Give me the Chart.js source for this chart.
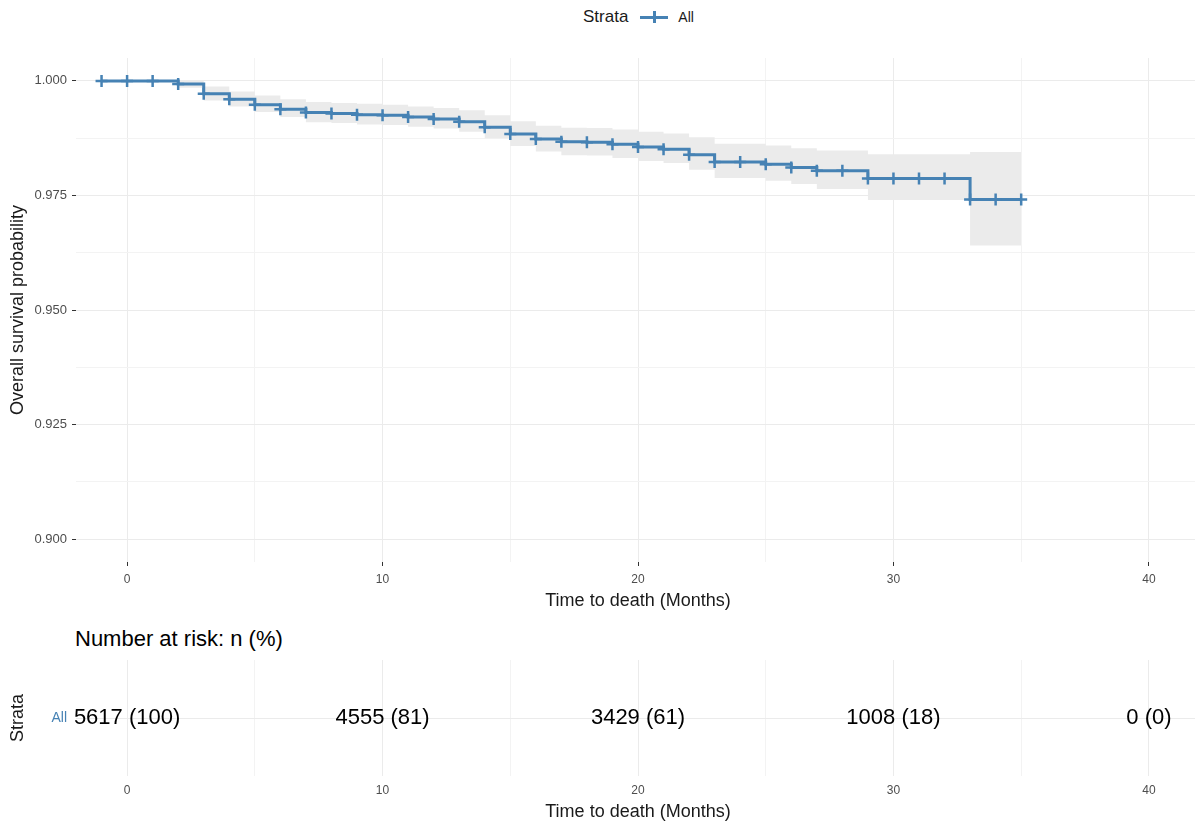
<!DOCTYPE html>
<html>
<head>
<meta charset="utf-8">
<script src="https://cdn.jsdelivr.net/npm/chart.js@4.4.0/dist/chart.umd.min.js"></script>
<style>
  html, body { margin: 0; padding: 0; background: #fff; }
  body { width: 1195px; height: 827px; position: relative; overflow: hidden;
         font-family: "Liberation Sans", Arial, sans-serif; }
  #km { position: absolute; left: 0; top: 0; }
  #risk { position: absolute; left: 0; top: 615px; }
  #legend { position: absolute; left: 583px; top: 6px; height: 22px; display: flex; align-items: center; color: #1a1a1a; }
  #legend .lt { font-size: 17px; }
  #legend .key { position: relative; width: 28px; height: 14px; margin-left: 12px; }
  #legend .key .h { position: absolute; left: 0; right: 0; top: 5.5px; height: 3px; background: #4682b4; }
  #legend .key .v { position: absolute; left: 13px; width: 2.5px; top: 1px; bottom: 1px; background: #4682b4; }
  #legend .li { font-size: 14px; margin-left: 10px; }
  #riskTitle { position: absolute; left: 75px; top: 626px; font-size: 22px; color: #000; line-height: 26px; }
</style>
</head>
<body>
<div id="legend"><span class="lt">Strata</span><span class="key"><i class="h"></i><i class="v"></i></span><span class="li">All</span></div>
<canvas id="km" width="1200" height="614"></canvas>
<div id="riskTitle">Number at risk: n (%)</div>
<canvas id="risk" width="1200" height="212"></canvas>
<script>
// ---- data ---------------------------------------------------------------
const months = [-1, 0, 1, 2, 3, 4, 5, 6, 7, 8, 9, 10, 11, 12, 13, 14, 15, 16, 17,
  18, 19, 20, 21, 22, 23, 24, 25, 26, 27, 28, 29, 30, 31, 32, 33, 34, 35];
const survival = [1.0000, 1.0000, 1.0000, 0.9993, 0.9972, 0.9960, 0.9948, 0.9938, 0.9931,
  0.9929, 0.9926, 0.9925, 0.9921, 0.9917, 0.9911, 0.9899, 0.9884, 0.9873, 0.9867,
  0.9866, 0.9862, 0.9856, 0.9851, 0.9839, 0.9823, 0.9823, 0.9818, 0.9811, 0.9804,
  0.9804, 0.9787, 0.9787, 0.9787, 0.9787, 0.9741, 0.9741, 0.9741];
const upperCI = [1.0000, 1.0000, 1.0000, 1.0000, 0.9988, 0.9977, 0.9968, 0.9960, 0.9954,
  0.9952, 0.9950, 0.9948, 0.9944, 0.9941, 0.9936, 0.9925, 0.9912, 0.9902, 0.9898,
  0.9897, 0.9894, 0.9889, 0.9885, 0.9877, 0.9863, 0.9863, 0.9859, 0.9853, 0.9848,
  0.9848, 0.9840, 0.9840, 0.9840, 0.9840, 0.9845, 0.9845, 0.9845];
const lowerCI = [1.0000, 1.0000, 1.0000, 0.9985, 0.9957, 0.9944, 0.9932, 0.9921, 0.9910,
  0.9908, 0.9905, 0.9904, 0.9900, 0.9896, 0.9889, 0.9875, 0.9858, 0.9846, 0.9838,
  0.9837, 0.9832, 0.9825, 0.9821, 0.9806, 0.9788, 0.9788, 0.9782, 0.9775, 0.9764,
  0.9764, 0.9740, 0.9740, 0.9740, 0.9740, 0.9641, 0.9641, 0.9641];

const xMajorTicks = [0, 10, 20, 30, 40];
const xMinorTicks = [5, 15, 25, 35];
const yMajorTicks = [0.900, 0.925, 0.950, 0.975, 1.000];
const yMinorTicks = [0.9125, 0.9375, 0.9625, 0.9875];

const strata = ["All"];
const riskMonths = [0, 10, 20, 30, 40];
const riskCounts = [5617, 4555, 3429, 1008, 0];
const riskPercent = [100, 81, 61, 18, 0];

// ---- styling ------------------------------------------------------------
const LINE = "#4682b4";
const FONT = "'Liberation Sans', Arial, sans-serif";
const GRID_MAJOR = "#ebebeb";
const GRID_MINOR = "#f3f3f3";
const TICK_TXT = "#4d4d4d";

const isMajorX = v => xMajorTicks.includes(v);
const isMajorY = v => yMajorTicks.some(t => Math.abs(t - v) < 1e-6);

function xScale(opts) {
  return Object.assign({
    type: "linear", min: -2, max: 42,
    afterBuildTicks: s => { s.ticks = [...xMajorTicks, ...xMinorTicks].sort((a, b) => a - b).map(v => ({ value: v })); },
    ticks: { font: { family: FONT, size: 12 }, color: TICK_TXT, maxRotation: 0, autoSkip: false, padding: 6,
             callback: v => isMajorX(v) ? String(v) : "" },
    grid: { color: c => isMajorX(c.tick.value) ? GRID_MAJOR : GRID_MINOR, lineWidth: 1,
            tickColor: c => isMajorX(c.tick.value) ? "#333" : "rgba(0,0,0,0)", tickLength: 4 },
    border: { display: false },
    title: { display: true, text: "Time to death (Months)", font: { family: FONT, size: 18 }, color: "#1a1a1a",
             padding: { top: 0, bottom: 2 } },
  }, opts);
}

// ---- survival curve -----------------------------------------------------
const pts = arr => months.map((m, i) => ({ x: m, y: arr[i] }));

new Chart(document.getElementById("km"), {
  type: "line",
  data: {
    datasets: [
      { label: "upper", data: pts(upperCI), stepped: true, borderWidth: 0, pointRadius: 0,
        backgroundColor: "#ebebeb", fill: "+1", order: 2 },
      { label: "lower", data: pts(lowerCI), stepped: true, borderWidth: 0, pointRadius: 0, fill: false, order: 1 },
      { label: "All", data: pts(survival), stepped: true, borderColor: LINE, borderWidth: 3, fill: false, order: 0,
        pointStyle: "cross", pointRadius: 6, pointBorderWidth: 2.5, pointBorderColor: LINE,
        pointBackgroundColor: LINE },
    ],
  },
  options: {
    responsive: false, animation: false, events: [],
    layout: { autoPadding: false, padding: { top: 58, left: 0, right: 0, bottom: 0 } },
    plugins: { legend: { display: false }, tooltip: { enabled: false } },
    scales: {
      x: xScale({ afterFit: s => { s.height = 52; } }),
      y: {
        min: 0.895, max: 1.005,
        afterBuildTicks: s => { s.ticks = [...yMajorTicks, ...yMinorTicks].sort((a, b) => a - b).map(v => ({ value: v })); },
        afterFit: s => { s.width = 76; },
        ticks: { font: { family: FONT, size: 13 }, color: TICK_TXT, padding: 5,
                 callback: v => isMajorY(v) ? v.toFixed(3) : "" },
        grid: { color: c => isMajorY(c.tick.value) ? GRID_MAJOR : GRID_MINOR, lineWidth: 1,
                tickColor: c => isMajorY(c.tick.value) ? "#333" : "rgba(0,0,0,0)", tickLength: 4 },
        border: { display: false },
        title: { display: true, text: "Overall survival probability", font: { family: FONT, size: 18 },
                 color: "#1a1a1a", padding: { top: 7, bottom: 0 } },
      },
    },
  },
});

// ---- number-at-risk table -------------------------------------------------
const riskText = {
  id: "riskText",
  afterDatasetsDraw(chart) {
    const meta = chart.getDatasetMeta(0);
    const ctx = chart.ctx;
    ctx.save();
    ctx.font = "22px " + FONT;
    ctx.fillStyle = "#000";
    ctx.textAlign = "center";
    ctx.textBaseline = "middle";
    meta.data.forEach((p, i) => ctx.fillText(riskCounts[i] + " (" + riskPercent[i] + ")", p.x, p.y));
    ctx.restore();
  },
};

new Chart(document.getElementById("risk"), {
  type: "scatter",
  data: {
    datasets: [{ label: "All", data: riskMonths.map(m => ({ x: m, y: strata[0] })), pointRadius: 0, showLine: false }],
  },
  options: {
    responsive: false, animation: false, events: [],
    layout: { autoPadding: false, padding: { top: 45, left: 0, right: 0, bottom: 0 } },
    plugins: { legend: { display: false }, tooltip: { enabled: false } },
    scales: {
      x: xScale({
        afterFit: s => { s.height = 51; },
        ticks: { font: { family: FONT, size: 12 }, color: TICK_TXT, maxRotation: 0, autoSkip: false, padding: 7,
                 callback: v => isMajorX(v) ? String(v) : "" },
        grid: { color: c => isMajorX(c.tick.value) ? GRID_MAJOR : GRID_MINOR, lineWidth: 1, drawTicks: false },
        title: { display: true, text: "Time to death (Months)", font: { family: FONT, size: 18 }, color: "#1a1a1a",
                 padding: { top: 0, bottom: 4 } },
      }),
      y: {
        type: "category", labels: strata, offset: true,
        afterFit: s => { s.width = 76; },
        ticks: { font: { family: FONT, size: 14 }, color: LINE, padding: 9 },
        grid: { color: GRID_MAJOR, lineWidth: 1, drawTicks: false, offset: false },
        border: { display: false },
        title: { display: true, text: "Strata", font: { family: FONT, size: 18 }, color: "#1a1a1a",
                 padding: { top: 7, bottom: 0 } },
      },
    },
  },
  plugins: [riskText],
});
</script>
</body>
</html>
